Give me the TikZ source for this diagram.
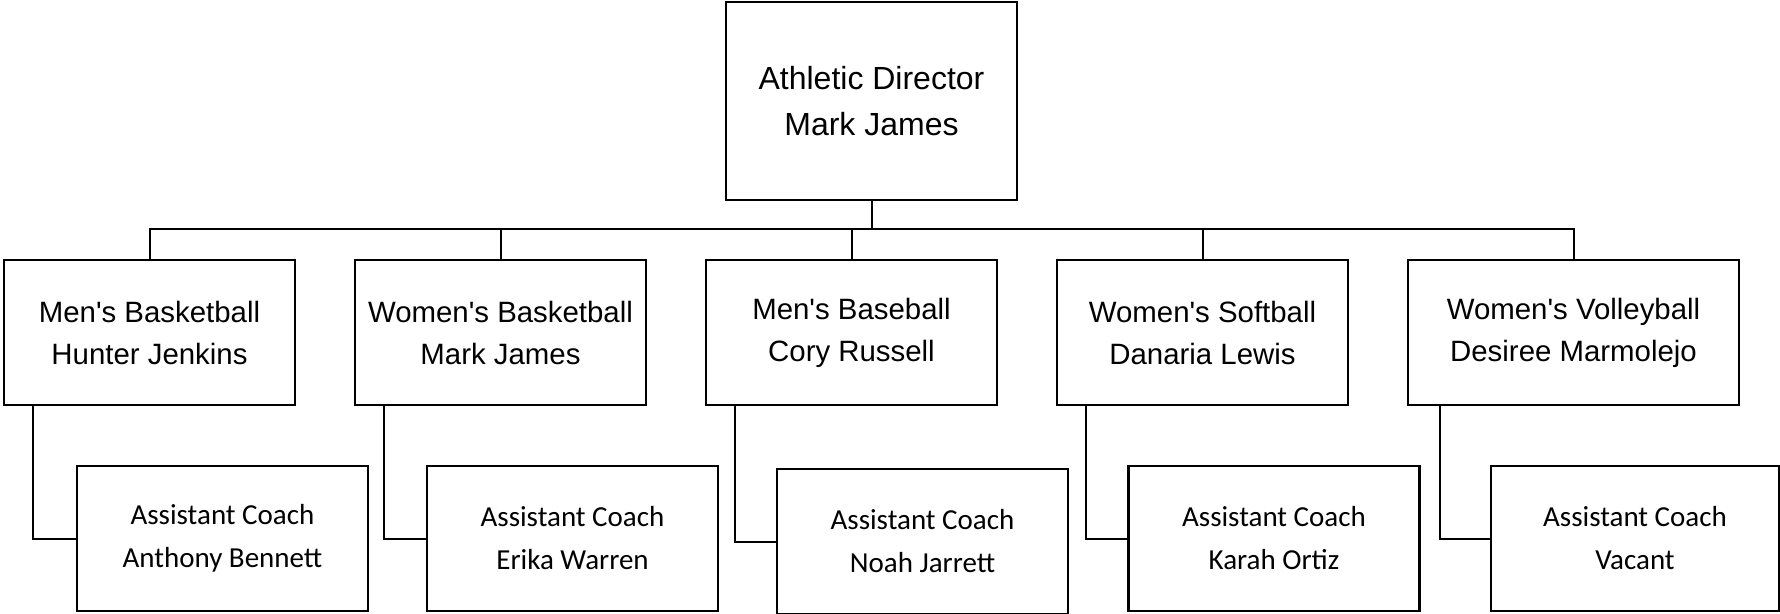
\documentclass[tikz,border=0pt]{standalone}
\usepackage{fontspec}
\setmainfont{Liberation Sans}
\newfontfamily\calibri{Carlito}
\usepackage{tikz}

\tikzset{
  role/.style={draw, line width=1.3pt, minimum width=145.5pt, minimum height=72.5pt,
    align=center, inner sep=0pt, font=\fontsize{14.7}{21}\selectfont},
  asst/.style={role, font=\calibri\fontsize{14.5}{21.5}\selectfont},
  conn/.style={line width=1pt},
}

\begin{document}
\begin{tikzpicture}[x=0.5pt, y=-0.5pt]
        \useasboundingbox (0,0) rectangle (1780,614);

        \node[role, minimum height=99pt, font=\fontsize{16}{23}\selectfont] (dir) at (871.5,101) {Athletic Director\\Mark James};

        \node[role] (mbb) at (149.5,332.5) {Men\textquotesingle s Basketball\\Hunter Jenkins};
        \node[role] (wbb) at (500.5,332.5) {Women\textquotesingle s Basketball\\Mark James};
        \node[role] (mbase) at (851.5,332.5) {Men\textquotesingle s Baseball\\Cory Russell};
        \node[role] (wsoft) at (1202.5,332.5) {Women\textquotesingle s Softball\\Danaria Lewis};
        \node[role, minimum width=165.5pt] (wvb) at (1573.5,332.5) {Women\textquotesingle s Volleyball\\Desiree Marmolejo};

        \node[asst] (mbbA) at (222.5,538.5) {Assistant Coach\\Anthony Bennett};
        \node[asst] (wbbA) at (572.5,538.5) {Assistant Coach\\Erika Warren};
        \node[asst] (mbaseA) at (922.5,541.5) {Assistant Coach\\Noah Jarrett};
        \node[asst] (wsoftA) at (1274,538.5) {Assistant Coach\\Karah Ortiz};
        \node[asst, minimum width=144pt] (wvbA) at (1635,538.5) {Assistant Coach\\Vacant};

        \coordinate (hub) at (871.5,229);
        \draw[conn] (dir.south) -- (hub);
        \foreach \n in {mbb,wbb,mbase,wsoft,wvb}
            \draw[conn] (\n.north) |- (hub);

        \foreach \n/\d in {mbb/15pt,wbb/15pt,mbase/15pt,wsoft/15pt,wvb/16.5pt}
            \draw[conn] ([xshift=\d]\n.south west) |- (\n A.west); % assistants
\end{tikzpicture}
\end{document}
